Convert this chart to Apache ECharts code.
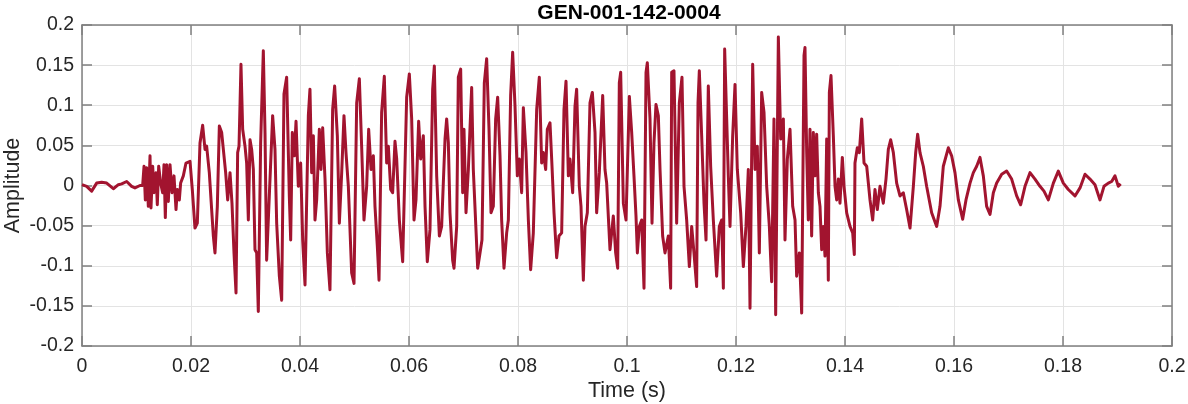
<!DOCTYPE html>
<html>
<head>
<meta charset="utf-8">
<script src="https://cdn.jsdelivr.net/npm/echarts@6/dist/echarts.min.js"></script>
<style>html,body{margin:0;padding:0;background:#fff}#c{width:1188px;height:404px}</style>
</head>
<body>
<div id="c"></div>
<script>
const chartTitle = "GEN-001-142-0004";
const xLabel = "Time (s)";
const yLabel = "Amplitude";
const xTicks = [0, 0.02, 0.04, 0.06, 0.08, 0.1, 0.12, 0.14, 0.16, 0.18, 0.2];
const yTicks = [-0.2, -0.15, -0.1, -0.05, 0, 0.05, 0.1, 0.15, 0.2];

// time samples (s)
const timeS = [
0,0.00086,0.00177,0.00269,0.00361,0.00453,0.00575,0.00667,0.00728,0.00820,0.00911,0.00972,0.01064,0.01113,
0.01138,0.01162,0.01187,0.01217,0.01248,0.01266,0.01297,0.01321,0.01358,0.01382,0.01407,0.01443,0.01480,0.01505,
0.01529,0.01554,0.01584,0.01615,0.01651,0.01688,0.01725,0.01749,0.01786,0.01810,0.01859,0.01908,0.01982,0.02024,
0.02073,0.02116,0.02165,0.02214,0.02257,0.02287,0.02336,0.02379,0.02410,0.02440,0.02483,0.02520,0.02563,0.02593,
0.02636,0.02673,0.02716,0.02752,0.02789,0.02826,0.02856,0.02881,0.02917,0.02948,0.02991,0.03021,0.03052,0.03083,
0.03113,0.03144,0.03174,0.03205,0.03235,0.03278,0.03327,0.03358,
0.03388,0.03498,0.03541,0.03572,0.03621,0.03664,0.03706,0.03755,0.03804,0.03829,0.03859,0.03896,0.03927,0.03969,
0.04012,0.04049,0.04092,0.04153,0.04183,0.04214,0.04245,0.04275,0.04306,0.04355,0.04385,0.04416,0.04459,0.04502,
0.04550,0.04599,0.04636,0.04685,0.04722,0.04765,0.04807,0.04844,0.04887,0.04948,0.04991,0.05040,0.05089,0.05131,
0.05174,0.05223,0.05260,0.05303,0.05346,0.05376,0.05419,0.05450,0.05498,0.05547,0.05590,0.05621,0.05664,0.05700,
0.05743,0.05774,0.05823,0.05884,0.05957,0.06006,0.06049,0.06092,0.06128,0.06177,0.06214,0.06263,0.06294,0.06336,
0.06385,0.06434,0.06465,0.06508,0.06557,
0.06599,0.06661,0.06691,0.06722,0.06752,0.06801,0.06826,0.06875,0.06905,0.06948,0.06985,0.07009,0.07046,0.07089,
0.07131,0.07150,0.07180,0.07229,0.07260,0.07303,0.07339,0.07382,0.07425,0.07468,0.07505,0.07547,0.07590,0.07627,
0.07670,0.07700,0.07743,0.07792,0.07823,0.07865,0.07902,0.07945,0.07988,0.08024,0.08067,0.08098,0.08147,0.08190,
0.08232,0.08281,0.08343,0.08391,0.08434,0.08465,0.08508,0.08538,0.08587,0.08624,0.08661,0.08709,0.08752,0.08801,
0.08844,0.08881,0.08924,0.08954,0.09003,0.09046,0.09076,0.09125,0.09156,0.09199,0.09229,0.09272,0.09321,0.09364,
0.09413,0.09443,0.09492,0.09554,0.09596,0.09627,0.09688,0.09749,0.09792,0.09829,0.09859,0.09884,
0.09933,0.09982,0.10043,0.10086,0.10128,0.10165,0.10190,0.10226,0.10269,0.10312,0.10349,0.10373,0.10422,0.10459,
0.10495,0.10532,0.10575,0.10606,0.10654,0.10697,0.10758,0.10801,0.10820,0.10862,0.10911,0.10960,0.11009,0.11046,
0.11095,0.11144,0.11187,0.11229,0.11278,0.11303,0.11327,0.11370,0.11413,0.11450,0.11492,0.11535,0.11584,0.11645,
0.11694,0.11737,0.11768,0.11792,0.11829,0.11859,0.11890,0.11939,0.11982,0.12024,0.12086,0.12135,0.12183,0.12226,
0.12257,0.12306,0.12349,0.12391,0.12428,0.12471,0.12514,0.12563,0.12612,0.12654,0.12697,0.12728,0.12777,0.12820,
0.12869,0.12899,0.12942,0.12991,0.13040,0.13083,0.13113,0.13162,0.13205,0.13248,0.13266,
0.13297,0.13327,0.13358,0.13388,0.13419,0.13450,0.13480,0.13511,0.13541,0.13572,0.13602,0.13633,0.13664,0.13694,
0.13713,0.13743,0.13786,0.13817,0.13847,0.13878,0.13908,0.13951,0.13982,0.14031,0.14092,0.14141,0.14171,0.14183,
0.14226,0.14263,0.14306,0.14349,0.14398,0.14459,0.14508,0.14550,0.14593,0.14642,0.14703,0.14752,0.14795,0.14838,
0.14887,0.14948,0.15009,0.15070,0.15131,0.15193,0.15254,0.15297,0.15333,0.15376,0.15437,0.15498,0.15590,0.15682,
0.15743,0.15804,0.15896,0.15957,0.16018,0.16080,0.16159,0.16220,0.16294,0.16355,0.16416,0.16477,
0.16538,0.16599,0.16661,0.16722,0.16783,0.16875,0.16966,0.17058,0.17150,0.17223,0.17303,0.17394,0.17486,0.17578,
0.17651,0.17731,0.17823,0.17914,0.18006,0.18098,0.18220,0.18312,0.18404,0.18495,0.18587,0.18679,0.18752,0.18832,
0.18893,0.18954,0.19015,0.19058
];

// amplitude samples
const amplitude = [
0.001,-0.001,-0.007,0.003,0.004,0.003,-0.004,0.001,0.002,0.005,-0.001,-0.003,0.000,0.000,
0.024,-0.018,0.022,-0.026,0.037,-0.028,0.024,-0.009,0.016,-0.024,0.024,0.003,-0.009,0.026,
-0.040,0.026,-0.020,0.026,-0.009,0.012,-0.030,-0.005,-0.018,0.003,0.012,0.028,0.030,-0.005,
-0.053,-0.047,0.053,0.075,0.045,0.049,0.016,-0.030,-0.063,-0.084,-0.026,0.074,0.066,0.068,
0.016,-0.018,0.016,-0.022,-0.084,-0.134,0.041,0.049,0.151,0.070,0.049,0.028,-0.043,0.057,
0.045,0.020,-0.080,-0.084,-0.157,0.053,0.168,0.066,
-0.093,0.087,0.045,-0.047,-0.113,-0.143,0.114,0.135,-0.013,-0.068,0.066,0.037,0.080,-0.001,
0.028,-0.068,-0.124,0.087,0.120,0.016,0.062,-0.043,-0.018,0.070,0.020,0.072,0.008,-0.084,
-0.130,0.095,0.124,0.062,-0.047,0.016,0.087,0.041,-0.001,-0.109,-0.122,0.103,0.133,0.049,
-0.043,-0.001,0.070,0.020,0.037,-0.026,-0.076,-0.118,0.091,0.136,0.028,0.049,-0.005,-0.009,
0.055,0.033,-0.043,-0.095,0.110,0.139,0.083,-0.043,-0.018,0.080,0.033,0.062,-0.026,-0.095,
-0.055,0.120,0.149,0.012,-0.063,
-0.051,0.058,0.083,0.053,-0.034,-0.093,-0.103,-0.051,0.135,0.145,-0.009,0.070,-0.034,0.020,
0.091,0.122,0.020,-0.055,-0.103,-0.084,-0.068,0.128,0.158,0.070,-0.034,-0.026,0.083,0.110,
0.037,-0.043,-0.103,-0.059,-0.043,0.112,0.166,0.099,0.012,0.033,-0.009,0.097,0.041,-0.043,
-0.105,-0.059,0.095,0.135,0.028,0.041,0.020,0.070,0.078,0.024,-0.034,-0.090,-0.063,-0.059,
0.095,0.130,0.012,0.033,-0.009,0.099,0.120,-0.001,-0.026,-0.118,-0.051,-0.034,0.103,0.116,
0.066,-0.034,0.016,0.112,0.020,0.003,-0.080,-0.038,-0.084,-0.103,0.128,0.141,
-0.022,-0.043,0.111,0.066,0.012,-0.038,-0.084,-0.051,-0.043,-0.128,0.141,0.153,0.083,-0.047,
0.053,0.101,0.087,0.020,-0.063,-0.084,-0.063,-0.128,0.141,0.143,-0.047,0.103,0.135,-0.001,
-0.043,-0.101,-0.051,-0.084,-0.126,0.103,0.143,0.062,-0.022,-0.068,0.124,0.024,-0.043,-0.113,
-0.051,-0.043,-0.128,0.170,0.083,0.012,-0.051,0.062,0.126,0.020,-0.034,-0.101,-0.051,0.020,
-0.153,0.151,0.020,0.049,-0.084,0.116,0.091,-0.001,-0.051,-0.120,0.083,-0.161,0.185,0.058,
0.083,-0.068,0.033,0.070,-0.026,-0.043,-0.113,-0.084,-0.159,0.162,0.172,
0.041,-0.043,0.070,-0.063,0.066,0.012,0.064,-0.009,-0.026,-0.080,-0.051,-0.088,0.058,-0.118,
0.116,0.137,0.062,-0.001,-0.018,0.008,-0.022,0.035,-0.001,-0.034,-0.051,-0.059,-0.086,0.028,
0.047,0.041,0.083,0.028,0.024,-0.018,-0.043,-0.005,-0.030,-0.001,-0.022,0.008,0.045,0.057,
0.041,0.003,-0.013,-0.009,-0.030,-0.053,-0.001,0.041,0.064,0.041,0.024,-0.001,-0.034,-0.051,
-0.026,0.024,0.047,0.037,0.016,-0.018,-0.042,-0.018,0.003,0.016,0.024,0.035,
0.012,-0.026,-0.036,-0.009,0.003,0.014,0.018,0.008,-0.013,-0.024,-0.001,0.016,0.008,-0.001,
-0.007,-0.018,0.003,0.018,0.003,-0.005,-0.013,-0.003,0.014,0.008,0.001,-0.018,-0.001,0.003,
0.005,0.012,-0.001,0.002
];

const seriesData = timeS.map((t, i) => [t, amplitude[i]]);

const textColor = '#262626';
const axisColor = '#808080';
const gridColor = '#e3e3e3';
const fontFam = 'Liberation Sans, Arial, sans-serif';

const chart = echarts.init(document.getElementById('c'), null, {renderer: 'canvas'});
const baseX = {
  type: 'value', min: xTicks[0], max: xTicks[xTicks.length - 1], interval: xTicks[1] - xTicks[0],
  axisLine: {show: true, onZero: false, lineStyle: {color: axisColor, width: 1.5}},
  axisTick: {show: true, inside: true, length: 10, lineStyle: {color: axisColor, width: 1.5}},
};
const baseY = {
  type: 'value', min: yTicks[0], max: yTicks[yTicks.length - 1], interval: yTicks[1] - yTicks[0],
  axisLine: {show: true, onZero: false, lineStyle: {color: axisColor, width: 1.5}},
  axisTick: {show: true, inside: true, length: 10, lineStyle: {color: axisColor, width: 1.5}},
};
chart.setOption({
  animation: false,
  backgroundColor: '#fff',
  title: {
    text: chartTitle, left: 624, top: -2, textAlign: 'center',
    textStyle: {fontFamily: fontFam, fontSize: 21, fontWeight: 'bold', color: '#000'}
  },
  grid: {left: 82, right: 16, top: 25, bottom: 58, containLabel: false, outerBoundsMode: 'none'},
  xAxis: [
    Object.assign({}, baseX, {
      position: 'bottom',
      name: xLabel, nameLocation: 'middle', nameGap: 34, nameMoveOverlap: false,
      nameTextStyle: {fontFamily: fontFam, fontSize: 21.5, color: textColor},
      axisLabel: {show: true, margin: 11, color: textColor, fontFamily: fontFam, fontSize: 19.5,
        formatter: v => String(+v.toFixed(2))},
      splitLine: {show: true, lineStyle: {color: gridColor, width: 1}}
    }),
    Object.assign({}, baseX, {position: 'top', axisLabel: {show: false}, splitLine: {show: false}})
  ],
  yAxis: [
    Object.assign({}, baseY, {
      position: 'left',
      name: yLabel, nameLocation: 'middle', nameGap: 58, nameRotate: 90, nameMoveOverlap: false,
      nameTextStyle: {fontFamily: fontFam, fontSize: 21.5, color: textColor},
      axisLabel: {show: true, margin: 8, color: textColor, fontFamily: fontFam, fontSize: 19.5,
        formatter: v => String(+v.toFixed(2))},
      splitLine: {show: true, lineStyle: {color: gridColor, width: 1}}
    }),
    Object.assign({}, baseY, {position: 'right', axisLabel: {show: false}, splitLine: {show: false}})
  ],
  series: [{
    type: 'line', data: seriesData, xAxisIndex: 0, yAxisIndex: 0,
    showSymbol: false, symbol: 'none', sampling: null,
    lineStyle: {color: '#A2142F', width: 3, join: 'round'},
    clip: true, z: 3
  }]
});
</script>
</body>
</html>
